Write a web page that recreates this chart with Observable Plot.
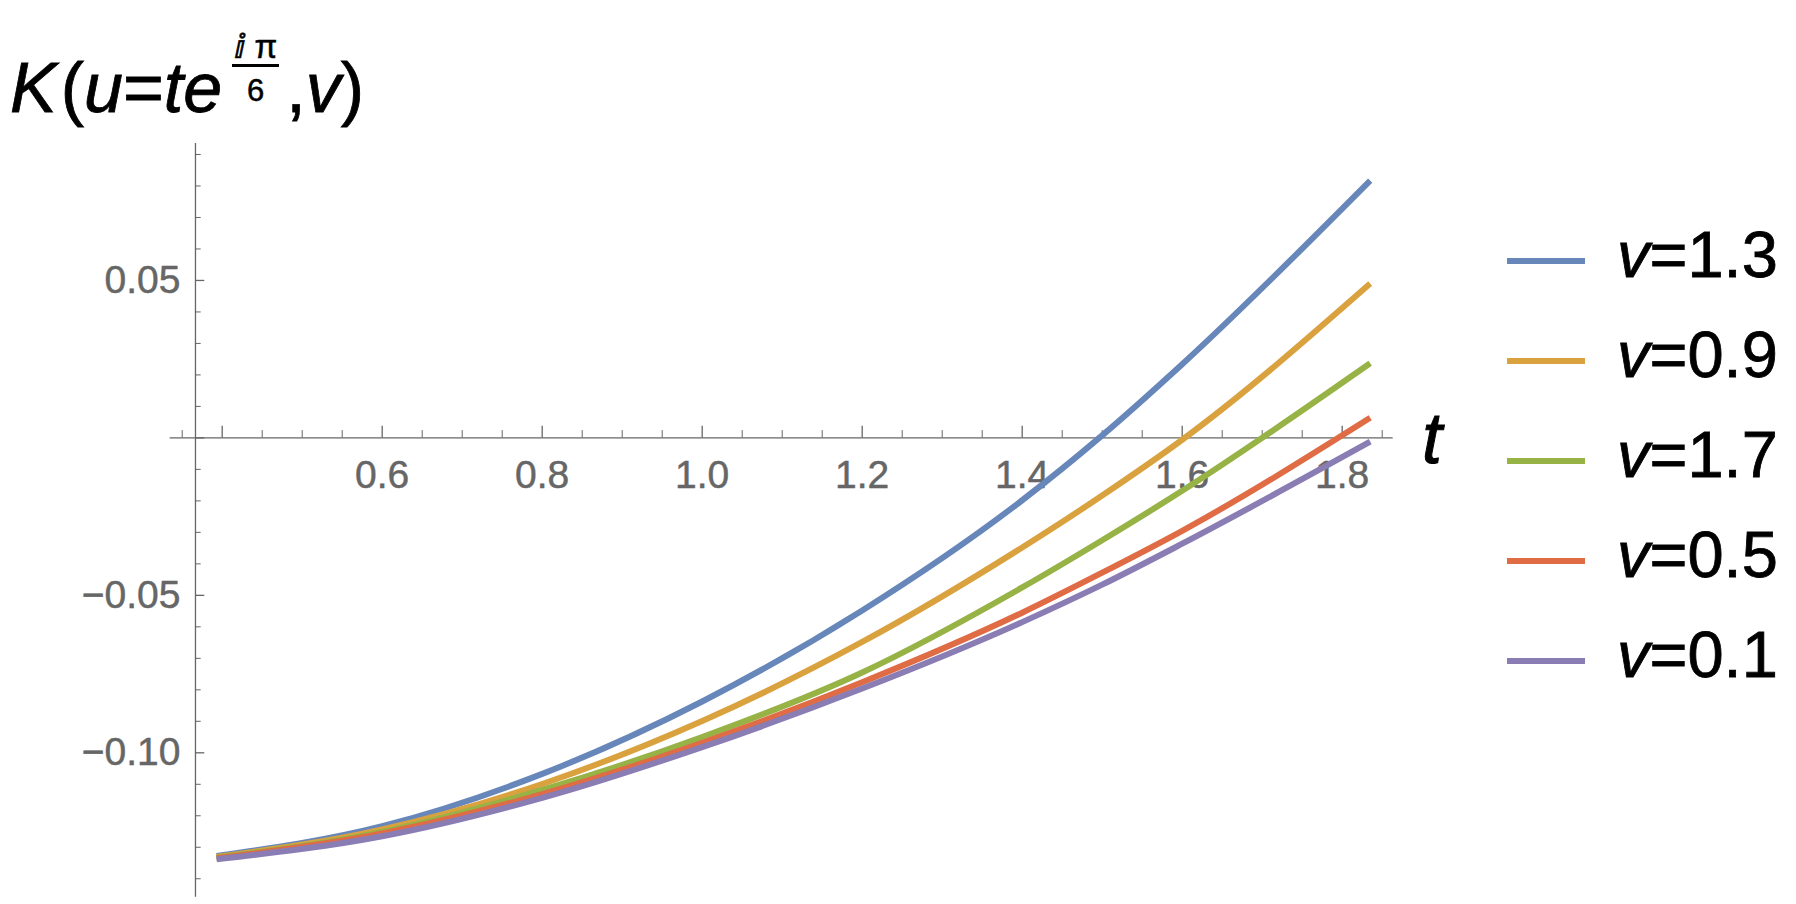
<!DOCTYPE html>
<html>
<head>
<meta charset="utf-8">
<script src="https://cdn.jsdelivr.net/npm/d3@7"></script>
<script src="https://cdn.jsdelivr.net/npm/@observablehq/plot@0.6"></script>
<style>
  html, body { margin: 0; padding: 0; background: #fff; }
  #wrap { position: relative; width: 1796px; height: 904px; overflow: hidden;
          font-family: "Liberation Sans", Arial, sans-serif; color: #000; }
  #chart { position: absolute; left: 0; top: 0; }
  #chart svg text { stroke: #666666; stroke-width: 0.5px; }
  #title { position: absolute; left: 10px; top: 42px; font-size: 70px; line-height: 70px; white-space: nowrap;
           -webkit-text-stroke: 0.8px #000; }
  #title i { font-style: italic; }
  #title .kk { margin-right: 4px; }
  .frac { display: inline-block; position: relative; width: 47px; height: 70px; margin-left: 10px; margin-right: 7px; }
  .frac .num { position: absolute; left: -4px; width: 55px; top: -12px; text-align: center; font-size: 33px; line-height: 33px; -webkit-text-stroke: 0.5px #000; }
  .frac .bar { position: absolute; left: 0; width: 47px; top: 22px; height: 2.5px; background: #000; }
  .frac .den { position: absolute; left: 0; width: 47px; top: 33px; text-align: center; font-size: 31px; line-height: 31px; -webkit-text-stroke: 0.5px #000; }
  #tlabel { position: absolute; left: 1422px; top: 402px; font-size: 72px; line-height: 72px; font-style: italic;
            -webkit-text-stroke: 1px #000; }
  .lg-row { position: absolute; left: 1507px; }
  .lg-sw { position: absolute; left: 0; width: 78px; height: 6px; }
  .lg-tx { position: absolute; left: 110px; font-size: 65px; line-height: 65px; white-space: nowrap;
           -webkit-text-stroke: 0.8px #000; }
</style>
</head>
<body>
<div id="wrap">
  <div id="chart"></div>
  <div id="title"><i class="kk">K</i>(<i>u</i>=<i>te</i><span class="frac"><span class="num">ⅈ π</span><span class="bar"></span><span class="den">6</span></span>,<i>v</i>)</div>
  <div id="tlabel">t</div>
  <div id="legend"></div>
</div>
<script>
// ---- data ----
const tValues = [0.393, 0.6, 0.8, 1.0, 1.2, 1.4, 1.5, 1.6, 1.835];
const seriesNames = ["v=1.3", "v=0.9", "v=1.7", "v=0.5", "v=0.1"];
const seriesV = ["1.3", "0.9", "1.7", "0.5", "0.1"];
const kV13 = [-0.1328, -0.1233, -0.1067, -0.0837, -0.0548, -0.0198, 0.0008, 0.0234, 0.0817];
const kV09 = [-0.1331, -0.1243, -0.1099, -0.0899, -0.0648, -0.0348, -0.0183, -0.0006, 0.0490];
const kV17 = [-0.1333, -0.1251, -0.1118, -0.0950, -0.0745, -0.0475, -0.0325, -0.0168, 0.0237];
const kV05 = [-0.1335, -0.1256, -0.1131, -0.0968, -0.0776, -0.0555, -0.0428, -0.0295, 0.0064];
const kV01 = [-0.1338, -0.1265, -0.1143, -0.0982, -0.0796, -0.0585, -0.0466, -0.0336, -0.0012];
const seriesValues = [kV13, kV09, kV17, kV05, kV01];

const xMajorTicks = [0.4, 0.6, 0.8, 1.0, 1.2, 1.4, 1.6, 1.8];
const xTickLabels = [0.6, 0.8, 1.0, 1.2, 1.4, 1.6, 1.8];
const xMinorTicks = [0.35, 0.45, 0.5, 0.55, 0.65, 0.7, 0.75, 0.85, 0.9, 0.95, 1.05, 1.1, 1.15,
                     1.25, 1.3, 1.35, 1.45, 1.5, 1.55, 1.65, 1.7, 1.75, 1.85];
const yMajorTicks = [0.05, 0, -0.05, -0.1];
const yTickLabels = [0.05, -0.05, -0.1];
const yMinorTicks = [0.09, 0.08, 0.07, 0.06, 0.04, 0.03, 0.02, 0.01, -0.01, -0.02, -0.03, -0.04,
                     -0.06, -0.07, -0.08, -0.09, -0.11, -0.12, -0.13, -0.14];

// ---- styling / layout ----
const seriesColors = ["#6787ba", "#daa23f", "#97b245", "#df6c45", "#897db4"];
const axisColor = "#666666";
const yAxisAtT = 0.3666;               // t where the vertical axis sits
const xAxisExtent = [0.3349, 1.8637];  // horizontal axis line extent (t)
const yAxisExtent = [0.0935, -0.1459]; // vertical axis line extent (K)

const rows = [];
seriesNames.forEach((name, s) => {
  tValues.forEach((t, i) => rows.push({series: name, t, k: seriesValues[s][i]}));
});

const chart = Plot.plot({
  width: 1796,
  height: 904,
  marginLeft: 195,
  marginRight: 0,
  marginTop: 0,
  marginBottom: 466.6,
  style: {background: "transparent", fontFamily: "'Liberation Sans', Arial, sans-serif", fontSize: "39px"},
  x: {domain: [0.3, 1.9], range: [141.7, 1421.7]},
  y: {domain: [-0.15, 0.1], range: [909.75, 122.5]},
  color: {domain: seriesNames, range: seriesColors},
  marks: [
    // axis lines
    Plot.ruleY([0], {x1: () => xAxisExtent[0], x2: () => xAxisExtent[1], stroke: axisColor, strokeWidth: 1.3}),
    Plot.ruleX([yAxisAtT], {x: d => d, y1: () => yAxisExtent[0], y2: () => yAxisExtent[1], stroke: axisColor, strokeWidth: 1.3}),
    // x ticks (pointing up)
    Plot.ruleX(xMajorTicks, {x: d => d, y1: () => 0, y2: () => 0, insetTop: -11.7, insetBottom: 0, stroke: axisColor, strokeWidth: 1.3}),
    Plot.ruleX(xMinorTicks, {x: d => d, y1: () => 0, y2: () => 0, insetTop: -7.3, insetBottom: 0, stroke: axisColor, strokeWidth: 1}),
    // y ticks (pointing right)
    Plot.ruleY(yMajorTicks, {y: d => d, x1: () => yAxisAtT, x2: () => yAxisAtT, insetRight: -9.3, insetLeft: 0, stroke: axisColor, strokeWidth: 1.3}),
    Plot.ruleY(yMinorTicks, {y: d => d, x1: () => yAxisAtT, x2: () => yAxisAtT, insetRight: -5.7, insetLeft: 0, stroke: axisColor, strokeWidth: 1}),
    // tick labels
    Plot.axisX(xTickLabels, {tickSize: 0, tickPadding: 22, tickFormat: d3.format(".1f"), fontSize: 39, fill: axisColor, label: null}),
    Plot.axisY(yTickLabels, {tickSize: 0, tickPadding: 15, tickFormat: d3.format(".2f"), fontSize: 39, fill: axisColor, label: null}),
    // curves
    Plot.line(rows, {x: "t", y: "k", z: "series", stroke: "series", strokeWidth: 6, curve: "monotone-x", strokeLinecap: "butt"})
  ]
});
document.getElementById("chart").appendChild(chart);

// legend
const legend = document.getElementById("legend");
seriesNames.forEach((name, i) => {
  const row = document.createElement("div");
  row.className = "lg-row";
  row.style.top = (258 + 100 * i) + "px";
  const sw = document.createElement("div");
  sw.className = "lg-sw";
  sw.style.background = seriesColors[i];
  const tx = document.createElement("div");
  tx.className = "lg-tx";
  tx.style.top = (221.7 - 258) + "px";
  tx.innerHTML = "<i>v</i>=" + seriesV[i];
  row.appendChild(sw);
  row.appendChild(tx);
  legend.appendChild(row);
});
</script>
</body>
</html>
